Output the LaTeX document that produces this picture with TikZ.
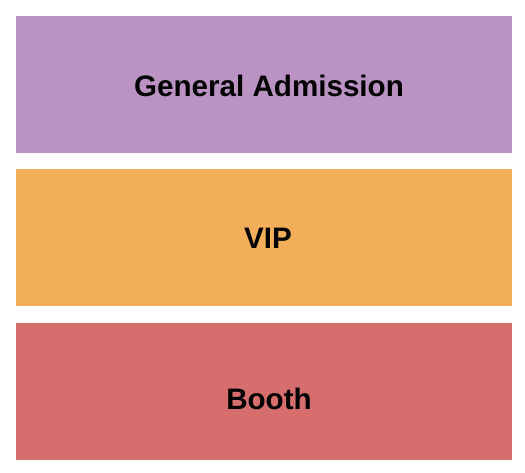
\documentclass[tikz,border=0pt]{standalone}
\usepackage{fontspec}
\setmainfont{Liberation Sans}
\definecolor{gacol}{RGB}{186,147,195}
\definecolor{vipcol}{RGB}{242,174,88}
\definecolor{boothcol}{RGB}{214,110,110}
\begin{document}
\begin{tikzpicture}[x=1pt,y=-1pt,
  label/.style={font=\fontsize{29.6}{31}\selectfont\bfseries, text=black, anchor=base, inner sep=0pt}]
\useasboundingbox (0,0) rectangle (525,473);
\fill[gacol] (16,16) rectangle (512,153);
\fill[vipcol] (16,169) rectangle (512,306);
\fill[boothcol] (16,323) rectangle (512,460);
\node[label] (ga) at (269,97) {General Admission};
\node[label] (vip) at (268,249) {VIP};
\node[label] (booth) at (269,409) {Booth};
\end{tikzpicture}
\end{document}
